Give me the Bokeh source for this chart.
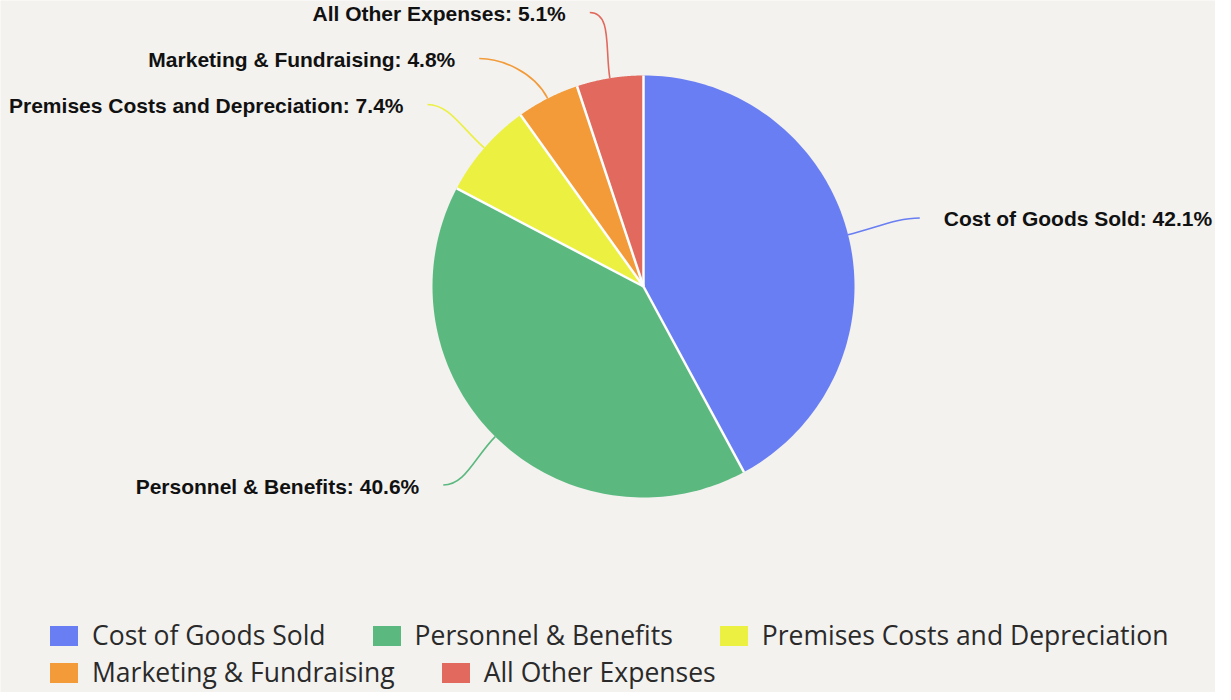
import numpy as np
from bokeh.plotting import figure
from bokeh.models import Range1d, Legend, LegendItem
from bokeh.core.properties import value
from bokeh.embed import file_html
from bokeh.resources import INLINE

# ---- data ----
categories = ["Cost of Goods Sold", "Personnel & Benefits",
              "Premises Costs and Depreciation", "Marketing & Fundraising",
              "All Other Expenses"]
shares = [42.1, 40.6, 7.4, 4.8, 5.1]
colors = ["#687ef2", "#5bb97f", "#ebf041", "#f29b38", "#e2695d"]
legend_rows = [[0, 1, 2], [3, 4]]

# ---- layout (data space == page pixels; page margin 8px) ----
W, H = 1215, 692
OX, OY = 8, 8
BG = "#f3f2ef"
cx, cy, r = 651, 294, 211
RX, RY = 285, 279   # ellipse on which connectors end
min_gap = 46        # min vertical gap between labels

p = figure(width=W, height=H, x_range=Range1d(OX, OX + W), y_range=Range1d(OY + H, OY),
           output_backend="svg", toolbar_location=None, min_border=0,
           x_axis_location=None, y_axis_location=None,
           background_fill_color=BG, border_fill_color=BG)
p.grid.visible = False
p.outline_line_color = None

total = float(sum(shares))
angles = np.cumsum([0.0] + [s / total * 2 * np.pi for s in shares])

renderers = []
for i, (cat, col) in enumerate(zip(categories, colors)):
    a = np.linspace(angles[i], angles[i + 1], 120)
    xs = [cx] + list(cx + r * np.sin(a))
    ys = [cy] + list(cy - r * np.cos(a))
    rend = p.patch(xs, ys, fill_color=col, line_alpha=0)
    renderers.append(rend)

# separators
b = angles[:-1]
p.segment(x0=[cx] * len(b), y0=[cy] * len(b), x1=list(cx + r * np.sin(b)),
          y1=list(cy - r * np.cos(b)), line_color="white", line_width=2.5)

# ---- labels ----
mids = (angles[:-1] + angles[1:]) / 2
lab_y = {i: cy - RY * np.cos(m) for i, m in enumerate(mids)}
sides = {i: (1 if np.sin(m) >= 0 else -1) for i, m in enumerate(mids)}
for side in (1, -1):
    idx = sorted([i for i in lab_y if sides[i] == side], key=lambda i: lab_y[i])
    prev = None
    for i in idx:
        y = max(lab_y[i], 20)
        if prev is not None:
            y = max(y, prev + min_gap)
        lab_y[i] = y
        prev = y

for i, m in enumerate(mids):
    s = sides[i]
    ly = lab_y[i]
    t = min(abs(ly - cy) / RY, 1.0)
    lx = cx + s * RX * np.sqrt(1 - t ** 2)
    ex, ey = cx + r * np.sin(m), cy - r * np.cos(m)
    c1x, c1y = cx + (r + 30) * np.sin(m), cy - (r + 30) * np.cos(m)
    c2x, c2y = lx - s * 22, ly
    p.bezier(x0=[ex], y0=[ey], x1=[lx], y1=[ly], cx0=[c1x], cy0=[c1y],
             cx1=[c2x], cy1=[c2y], line_color=colors[i], line_width=1.6)
    p.text(x=[lx + s * 24], y=[ly + 1], text=[f"{categories[i]}: {shares[i]}%"],
           text_align="left" if s > 0 else "right", text_baseline="middle",
           text_font=value("Liberation Sans"), text_font_style="bold",
           text_font_size="21px", text_color="#111111")

# ---- legend (two rows) ----
row_bottoms = [39, 2]
for row, yb in zip(legend_rows, row_bottoms):
    items = [LegendItem(label=categories[i], renderers=[renderers[i]]) for i in row]
    leg = Legend(items=items, orientation="horizontal", location=(46, yb),
                 glyph_width=35, glyph_height=25, label_standoff=11, spacing=43,
                 padding=0, margin=0, border_line_alpha=0, background_fill_alpha=0,
                 label_text_font="Open Sans", label_text_font_size="26.5px",
                 label_text_color="#2a2a2a", label_height=25)
    p.add_layout(leg)

open("out.html", "w").write(file_html(p, INLINE))
